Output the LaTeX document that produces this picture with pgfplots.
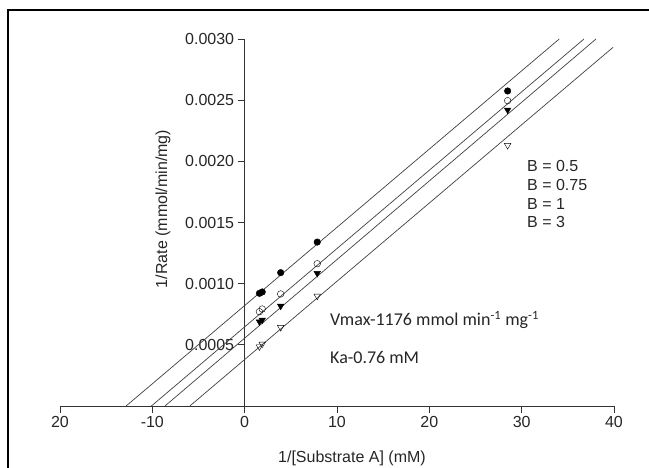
\documentclass[border=0pt]{standalone}
\usepackage{fontspec}
\setmainfont{Liberation Sans}
\newfontfamily\califont{Carlito}
\usepackage{pgfplots}
\pgfplotsset{compat=1.18}

\begin{document}
\begin{tikzpicture}[x=1pt,y=1pt]
\useasboundingbox (0,0) rectangle (649,468);
% outer frame (left and top)
\draw[line width=1.3pt] (8,0) -- (8,458) -- (649,458);
\begin{axis}[
    at={(60pt,62pt)}, anchor=south west,
    scale only axis, width=554pt, height=367pt,
    xmin=-20, xmax=40, ymin=0, ymax=0.003,
    axis x line=bottom, axis y line=middle,
    axis line style={-, black!80, line width=0.9pt},
    hide obscured x ticks=false,
    tick align=outside, major tick length=7pt,
    tick style={black!80, line width=0.9pt},
    xtick={-20,-10,0,10,20,30,40},
    xticklabels={20,-10,0,10,20,30,40},
    ytick={0.0005,0.001,0.0015,0.002,0.0025,0.003},
    scaled y ticks=false,
    yticklabel style={/pgf/number format/fixed, /pgf/number format/fixed zerofill,
        /pgf/number format/precision=4},
    /pgf/number format/assume math mode=true,
    ticklabel style={font=\fontsize{16}{18}\selectfont, text=black!85},
    clip=false,
]
% fitted lines
\addplot[no marks, black!75, line width=0.7pt] coordinates {(-12.84,0) (34.07,0.003)};
\addplot[no marks, black!75, line width=0.7pt] coordinates {(-10.10,0) (36.75,0.003)};
\addplot[no marks, black!75, line width=0.7pt] coordinates {(-8.63,0) (38.05,0.003)};
\addplot[no marks, black!75, line width=0.7pt] coordinates {(-5.94,0) (39.90,0.002932)};
% B = 0.5
\addplot[only marks, mark=*, mark size=3.3pt, black] coordinates {
    (1.6,0.000921) (1.9,0.000932) (3.9,0.00109) (7.86,0.00134) (28.48,0.002575)};
% B = 0.75
\addplot[only marks, mark=o, mark size=3.3pt, black, mark options={fill=white}] coordinates {
    (1.6,0.000771) (1.9,0.000793) (3.9,0.000916) (7.86,0.001163) (28.48,0.002496)};
% B = 1
\addplot[only marks, mark=triangle*, mark size=3.8pt, black, mark options={rotate=180}] coordinates {
    (1.6,0.000689) (1.9,0.000703) (3.9,0.000817) (7.86,0.001085) (28.48,0.00242)};
% B = 3
\addplot[only marks, mark=triangle, mark size=3.8pt, black, mark options={rotate=180, fill=white}] coordinates {
    (1.6,0.000485) (1.9,0.000507) (3.9,0.000643) (7.86,0.000899) (28.48,0.002131)};
\end{axis}
% axis titles
\node[rotate=90, font=\fontsize{16}{18}\selectfont, text=black!85] at (163,259) {1/Rate (mmol/min/mg)};
\node[font=\fontsize{16}{18}\selectfont, text=black!85] at (352,10) {1/[Substrate A] (mM)};
% legend text
\begin{scope}[every node/.style={anchor=west, inner sep=0pt, font=\fontsize{16}{18}\selectfont, text=black!85}]
\node at (527,302) {B = 0.5};
\node at (527,283) {B = 0.75};
\node at (527,264.3) {B = 1};
\node at (527,246) {B = 3};
\end{scope}
% annotations
\begin{scope}[every node/.style={anchor=west, inner sep=0pt, font=\califont\fontsize{18}{21}\selectfont, text=black!85}]
\node at (330,148) {Vmax-1176 mmol min\textsuperscript{-1} mg\textsuperscript{-1}};
\node at (330,111) {Ka-0.76 mM};
\end{scope}
\end{tikzpicture}
\end{document}
